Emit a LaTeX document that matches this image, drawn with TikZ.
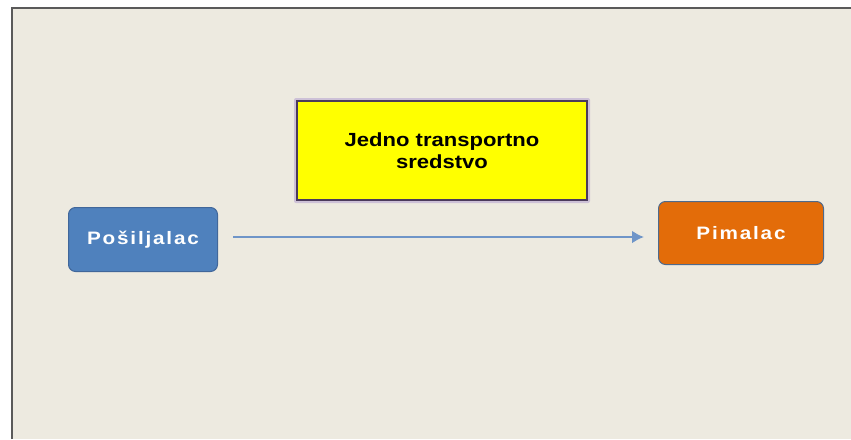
\documentclass[tikz,border=0pt]{standalone}
\usepackage{fontspec}
\setmainfont{Liberation Sans}
\usetikzlibrary{arrows,arrows.meta,positioning,calc}
\tikzset{>=latex}

\definecolor{slideBg}{HTML}{EDEAE0}
\definecolor{frameGrey}{HTML}{5A5A5A}
\definecolor{senderBlue}{HTML}{4F81BD}
\definecolor{senderEdge}{HTML}{41679A}
\definecolor{receiverOrange}{HTML}{E36C09}
\definecolor{receiverEdge}{HTML}{4E6A8C}
\definecolor{vehicleYellow}{HTML}{FFFF00}
\definecolor{vehicleEdge}{HTML}{4B3B5C}
\definecolor{vehicleGlow}{HTML}{B9A6D2}
\definecolor{flowBlue}{HTML}{6F95C8}

\newfontfamily\partyfont[FakeStretch=1.15,LetterSpace=10]{Liberation Sans}
\newfontfamily\vehiclefont[FakeStretch=1.16]{Liberation Sans}

\tikzset{
    party/.style={rounded corners=7pt,line width=1pt,align=center,
        text=white,font=\partyfont\bfseries\fontsize{18}{21}\selectfont},
    vehicle/.style={fill=vehicleYellow,draw=vehicleEdge,line width=1.2pt,align=center,
        font=\vehiclefont\bfseries\fontsize{19}{22}\selectfont}
}

\begin{document}
\begin{tikzpicture}[x=1pt,y=-1pt]

    \def\xSender{143}
    \def\xReceiver{741}
    \def\xVehicle{442}
    \def\ySender{239.5}
    \def\yReceiver{233}
    \def\yVehicle{150.5}
    \def\yFlow{237}

    \useasboundingbox (0,0) rectangle (851,439);

    % slide background and frame
    \fill[white] (0,0) rectangle (851,439);
    \fill[slideBg] (12,8) rectangle (851,439);
    \draw[frameGrey,line width=2pt] (12,439) -- (12,8) -- (851,8);

    % glow round the yellow box
    \fill[vehicleGlow,opacity=0.6,rounded corners=2pt] (294,98) rectangle (590,203);

    \node
        [vehicle,minimum width=290pt,minimum height=99pt]
        at (\xVehicle,\yVehicle)
        (vehicle) {Jedno transportno\\sredstvo};
    \node
        [party,fill=senderBlue,draw=senderEdge,minimum width=149pt,minimum height=64pt]
        at (\xSender,\ySender)
        (sender) {Pošiljalac};
    \node
        [party,fill=receiverOrange,draw=receiverEdge,minimum width=165pt,minimum height=63pt]
        at (\xReceiver,\yReceiver)
        (receiver) {Pimalac};

    \coordinate (flow) at (0,\yFlow);
    \draw[-{Latex[length=12pt,width=13pt]},flowBlue,line width=2.5pt,shorten <=15pt,shorten >=14pt]
        (sender.east |- flow) -- (receiver.west |- flow);

\end{tikzpicture}
\end{document}
